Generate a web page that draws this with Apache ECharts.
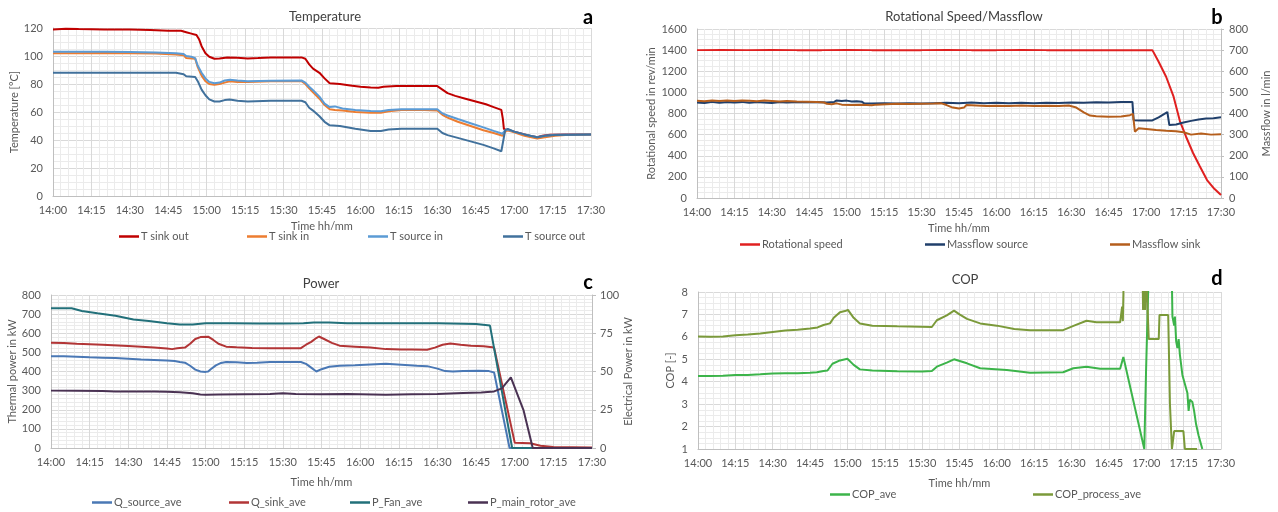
<!DOCTYPE html>
<html><head><meta charset="utf-8">
<script src="https://cdn.jsdelivr.net/npm/echarts@6/dist/echarts.min.js"></script>
<style>html,body{margin:0;padding:0;background:#fff}#c{width:1278px;height:512px}</style>
</head><body><div id="c"></div>
<script>
// ---- tick labels (x axis: minutes after 14:00) ----
const timeLabels = ['14:00','14:15','14:30','14:45','15:00','15:15','15:30','15:45','16:00','16:15','16:30','16:45','17:00','17:15','17:30'];

// ---- panel a: Temperature [°C] ----
const tSinkOut = [[0,119],[5,119.5],[10,119.3],[20,119],[30,119],[38,118.5],[45,118],[50,118],[52,117],[54,116],[56,115],[57,112],[58,107],[59.5,102],[61,99.5],[63,98],[65,98.2],[68,99],[72,98.8],[76,98.3],[80,98.5],[85,99],[90,99],[97,99],[98.5,98],[100,94],[101.5,91],[104,88],[106,84],[108,80.5],[112,80],[116,79],[120,78],[124,77.5],[127,77.4],[129,78],[134,78.5],[140,78.6],[147,78.6],[150,78.5],[152,76],[154,73.5],[157,71.5],[161,69.5],[165,67.5],[169,65.5],[172,63.5],[175,61.5],[175.6,55],[176,48],[177,47],[178,47],[180,46],[183,44.5],[186,43],[189,42],[191,43],[194,43.8],[200,44],[210,44]];
const tSinkIn = [[0,102],[10,102],[20,102.2],[30,102],[40,101.8],[48,101],[51,100.5],[52,98.5],[55.5,98],[56.5,92],[58,86],[59.5,82],[61,80],[63,79.5],[65,80],[67,81],[69,82],[72,81.5],[76,81.5],[85,82],[97,82],[98.5,80],[100,77],[101.5,74],[104,69.5],[106,65],[108,62],[110,61.5],[113,61],[118,60],[124,59.5],[128,59.5],[131,60.5],[136,61.5],[145,61.5],[150,61],[152,58],[154,56],[158,53],[163,50],[168,47],[172,45],[175.5,43],[176.5,46],[177.5,47],[180,45.5],[184,43],[189,41],[192,42],[196,43],[200,43.5],[210,44]];
const tSourceIn = [[0,103],[10,103],[20,103],[30,102.8],[40,102.5],[48,102],[51,101.5],[52,100],[54,99.5],[55.5,98.5],[56.5,93],[58,88],[59.5,84],[61,81.5],[63,80.5],[65,81],[67,82.5],[69,83],[72,82.5],[76,82],[85,82.3],[97,82.5],[98.5,81],[100,78],[101.5,75.5],[104,71],[106,66],[108,63.5],[110,64],[113,62.5],[118,61.5],[124,60.7],[128,60.5],[131,61.5],[136,62],[145,62],[150,62],[152,59],[154,57.5],[158,55],[163,52],[168,49],[172,46.5],[175.5,44.5],[176.5,47],[177.5,47.5],[180,46],[184,44],[189,42],[192,43],[196,43.8],[210,44]];
const tSourceOut = [[0,88],[10,88],[20,88],[30,88],[40,88],[48,88],[51,87],[52,85.5],[55.5,85],[56.5,82],[58,76],[59.5,72],[61,69],[63,67.5],[65,67.5],[67,68.5],[69,69],[72,68],[76,67.5],[85,68],[97,68],[98.5,67],[100,63],[101.5,61],[104,57],[106,53],[108,50.5],[112,50],[118,48],[124,46.5],[128,46.5],[131,47.5],[136,48],[145,48],[150,48],[152,45],[154,43.5],[158,41.5],[163,39],[168,36.5],[172,34],[175,32],[175.8,40],[176.5,47],[177.5,48],[180,46],[184,44],[189,42],[192,43],[196,43.5],[210,44]];

// ---- panel b: rotational speed [rev/min] (left), massflow [l/min] (right) ----
const rotSpeed = [[0,1400],[10,1402],[20,1400],[30,1401],[40,1400],[50,1400],[60,1401],[70,1400],[80,1400],[90,1400],[100,1402],[110,1400],[120,1400],[130,1401],[140,1400],[150,1400],[160,1400],[170,1400],[182.5,1400],[185,1290],[188,1148],[191,959],[193.6,722],[196,580],[198.8,426],[201.5,300],[204.4,170],[207,95],[210,28]];
const mfSource = [[0,452],[3,450],[6,455],[9,451],[12,454],[15,452],[18,455],[21,451],[24,454],[27,452],[30,450],[33,454],[36,452],[40,455],[44,453],[48,455],[52,452],[55,455],[56,462],[58,459],[60,461],[62,457],[64,458],[66,456],[67,448],[70,447],[75,449],[80,447],[85,449],[90,447],[95,449],[100,451],[105,449],[110,452],[115,449],[120,451],[125,448],[130,451],[135,449],[140,451],[145,450],[150,452],[155,451],[160,453],[165,452],[170,454],[174.5,455],[175,368],[178,367],[182.5,367],[185,382],[188.5,407],[189.3,345],[192,348],[195,357],[198,365],[201,372],[204,376],[207,378],[210,382]];
const mfSink = [[0,460],[3,458],[6,462],[9,459],[12,461],[15,459],[18,462],[21,460],[24,458],[27,461],[30,459],[33,457],[36,459],[40,457],[44,456],[48,455],[51,452],[52,446],[54,444],[56,448],[58,442],[62,440],[66,441],[70,439],[72,442],[76,444],[80,446],[85,445],[90,446],[95,447],[98,448],[100,440],[102,430],[105,424],[107,428],[108,440],[112,438],[116,436],[120,437],[125,435],[130,438],[135,436],[140,437],[145,435],[149,438],[152,428],[155,405],[157.5,390],[160,387],[165,385],[170,386],[173.5,392],[174.7,398],[175.5,314],[177,330],[180,327],[184,322],[188,318],[192,316],[195,311],[198,300],[202,305],[206,300],[210,302]];

// ---- panel c: thermal power [kW] (left), electrical power [kW] (right) ----
const qSource = [[0,480],[5,480],[10,477],[15,474],[20,472],[25,470],[30,467],[35,463],[40,460],[45,457],[48,455],[50,450],[52,446],[54,430],[56,410],[58,400],[60,398],[61,400],[62,412],[64,432],[66,445],[68,450],[72,448],[76,444],[80,446],[85,450],[90,450],[97,450],[99,440],[101,420],[103,400],[105,412],[108,425],[112,430],[118,433],[124,437],[130,440],[136,435],[142,430],[146,428],[150,415],[153,402],[156,400],[160,403],[166,404],[170,402],[172,395],[178,0],[210,0]];
const qSink = [[0,550],[5,549],[10,545],[20,540],[30,533],[40,526],[45,520],[47,517],[49,522],[52,525],[54,545],[56,570],[58,580],[61,582],[63,565],[65,545],[68,530],[72,527],[78,523],[85,522],[92,522],[97,522],[99,540],[101,555],[103,575],[104,583],[106,570],[109,550],[112,535],[118,530],[124,525],[130,517],[136,515],[140,515],[146,514],[149,525],[152,540],[155,546],[159,540],[163,535],[168,532],[172,525],[180,28],[186,25],[190,12],[195,5],[210,3]];
const pFan = [[0,91.3],[8,91.3],[12,89.5],[18,88],[25,86.5],[32,84],[38,83],[45,81.5],[50,80.7],[55,80.7],[60,81.5],[70,81.5],[80,81.3],[90,81.3],[98,81.5],[102,82],[108,82],[115,81.5],[130,81.5],[150,81.5],[165,81],[170.4,80],[179,0],[210,0]];
const pRotor = [[0,37.5],[10,37.4],[20,37.3],[25,37],[30,36.9],[35,37],[40,37],[45,36.8],[50,36.5],[55,35.8],[58,35],[60,34.8],[65,35],[75,35.2],[85,35.3],[90,35.8],[95,35.3],[105,35.2],[115,35.3],[125,35],[130,34.8],[140,35.2],[150,35.3],[160,36],[167,36.2],[172,37],[175,39],[178.5,46.2],[183.4,24.8],[187,0],[210,0]];

// ---- panel d: COP [-] ----
const copAve = [[0,4.25],[5,4.25],[10,4.27],[15,4.3],[20,4.3],[25,4.33],[30,4.37],[35,4.38],[40,4.38],[45,4.4],[47.7,4.42],[50.4,4.48],[52,4.5],[54,4.8],[57,4.95],[60,5.02],[62.5,4.75],[65,4.55],[70,4.5],[80,4.47],[90,4.46],[93.9,4.48],[95.9,4.67],[99.9,4.85],[102.8,5.0],[108,4.82],[113.3,4.6],[124,4.52],[133.3,4.4],[146.6,4.42],[150.7,4.6],[156,4.67],[161.5,4.58],[169.5,4.58],[170.8,5.1],[179.2,1.0],[179.9,4.45],[180.8,8.2],[185,9],[190.2,9],[190.5,6.9],[191.2,6.5],[191.5,6.9],[192,5.8],[192.5,5.5],[193,5.9],[193.5,5.2],[194.5,4.3],[195.5,3.9],[196.5,3.5],[197,2.7],[197.5,3.2],[198.5,3.1],[199.2,2.7],[200,2.1],[201,1.6],[202.5,1.0]];
const copProcess = [[0,6.02],[5,6.0],[10,6.02],[15,6.07],[20,6.1],[25,6.15],[30,6.22],[35,6.28],[40,6.32],[45,6.37],[48,6.42],[50.4,6.53],[53,6.6],[54.5,6.85],[57,7.1],[59,7.15],[60.2,7.2],[62.5,6.85],[65,6.6],[70,6.5],[80,6.47],[93.9,6.44],[95.9,6.74],[99.9,6.96],[102.8,7.17],[105,7.0],[108,6.8],[113.3,6.6],[120,6.5],[127,6.35],[133.3,6.3],[146.6,6.3],[151,6.5],[156,6.72],[160,6.65],[169.5,6.65],[170.3,7.35],[170.6,6.7],[171,9],[178.5,9],[178.7,7.2],[179,9],[179.5,7.2],[180,9],[180.5,7.3],[181,5.9],[185,5.9],[185.3,6.97],[188.8,6.97],[189.5,3.0],[190.3,1.0],[191.2,1.8],[194.9,1.8],[195.5,1.0],[200.4,1.0]];

const FONT = 'Lato, "Open Sans", sans-serif';
const TXT = '#595959';
const grids = [
  {left:53, top:28, width:538, height:168},
  {left:697, top:29, width:524, height:169},
  {left:51, top:295, width:541, height:153},
  {left:698, top:292, width:523, height:157}
];
function xAx(i){
  return {type:'value', gridIndex:i, min:0, max:210, interval:15,
    name:'Time hh/mm', nameLocation:'middle', nameGap: i<2?25:29,
    nameTextStyle:{color:TXT,fontSize:11,fontFamily:FONT},
    axisLabel:{color:TXT,fontSize:11,fontFamily:FONT,margin:9,formatter:v=>timeLabels[Math.round(v/15)]},
    axisLine:{show:true,lineStyle:{color:'#bfbfbf'}}, axisTick:{show:false},
    splitLine:{show:true,lineStyle:{color:'#d9d9d9'}},
    minorTick:{show:false,splitNumber:5}, minorSplitLine:{show:true,lineStyle:{color:'#ebebeb'}}};
}
function yAx(i,o){
  return Object.assign({type:'value', gridIndex:i, nameLocation:'middle', nameRotate:90,
    nameTextStyle:{color:TXT,fontSize:11,fontFamily:FONT},
    axisLabel:{color:TXT,fontSize:11,fontFamily:FONT,margin:10,formatter:v=>String(v)},
    axisLine:{show:true,lineStyle:{color:'#bfbfbf'}}, axisTick:{show:false},
    splitLine:{show:true,lineStyle:{color:'#d9d9d9'}},
    minorTick:{show:false,splitNumber:4}, minorSplitLine:{show:true,lineStyle:{color:'#ebebeb'}}}, o);
}
function ln(name,data,color,xi,yi){
  return {type:'line', name, data, xAxisIndex:xi, yAxisIndex:yi, showSymbol:false, symbol:'none',
    lineStyle:{color, width:2}, itemStyle:{color}, animation:false, clip:true};
}
function lg(name,left,top){
  return {data:[name], left, top, icon:'rect', itemWidth:20, itemHeight:2.5, padding:0,
    textStyle:{color:TXT,fontSize:11,fontFamily:FONT,padding:[0,0,0,-3]}, itemGap:2};
}
const option = {
  backgroundColor:'#fff', animation:false,
  title:[
    {text:'Temperature', left:320, top:5, textAlign:'center', textStyle:{fontSize:13,fontWeight:'normal',color:'#404040',fontFamily:FONT}},
    {text:'Rotational Speed/Massflow', left:959, top:5, textAlign:'center', textStyle:{fontSize:13,fontWeight:'normal',color:'#404040',fontFamily:FONT}},
    {text:'Power', left:316, top:272, textAlign:'center', textStyle:{fontSize:13,fontWeight:'normal',color:'#404040',fontFamily:FONT}},
    {text:'COP', left:960, top:268, textAlign:'center', textStyle:{fontSize:13,fontWeight:'normal',color:'#404040',fontFamily:FONT}},
    {text:'a', left:583, top:3, textAlign:'center', textStyle:{fontSize:20,fontWeight:'bold',color:'#000',fontFamily:FONT}},
    {text:'b', left:1212, top:3, textAlign:'center', textStyle:{fontSize:20,fontWeight:'bold',color:'#000',fontFamily:FONT}},
    {text:'c', left:583, top:268, textAlign:'center', textStyle:{fontSize:20,fontWeight:'bold',color:'#000',fontFamily:FONT}},
    {text:'d', left:1212, top:264, textAlign:'center', textStyle:{fontSize:20,fontWeight:'bold',color:'#000',fontFamily:FONT}}
  ],
  grid: grids,
  xAxis:[xAx(0),xAx(1),xAx(2),xAx(3)],
  yAxis:[
    yAx(0,{min:0,max:120,interval:20,name:'Temperature [°C]',nameGap:32}),
    yAx(1,{min:0,max:1600,interval:200,name:'Rotational speed in rev/min',nameGap:40}),
    yAx(1,{min:0,max:800,interval:100,name:'Massflow in l/min',nameGap:40,position:'right',axisLabel:{color:TXT,fontSize:11,fontFamily:FONT,margin:8},splitLine:{show:false},minorSplitLine:{show:false},axisTick:{show:true,length:3,lineStyle:{color:'#bfbfbf'}}}),
    yAx(2,{min:0,max:800,interval:100,name:'Thermal power in kW',nameGap:33,minorTick:{show:false,splitNumber:5}}),
    yAx(2,{min:0,max:100,interval:25,name:'Electrical Power in kW',nameGap:30,position:'right',axisLabel:{color:TXT,fontSize:11,fontFamily:FONT,margin:8},splitLine:{show:false},minorSplitLine:{show:false},axisTick:{show:true,length:4,lineStyle:{color:'#bfbfbf'}}}),
    yAx(3,{min:1,max:8,interval:1,name:'COP [-]',nameGap:22})
  ],
  legend:[
    lg('T sink out',119,231), lg('T sink in',247,231), lg('T source in',368,231), lg('T source out',503,231),
    lg('Rotational speed',740,239), lg('Massflow source',925,239), lg('Massflow sink',1110,239),
    lg('Q_source_ave',92,497), lg('Q_sink_ave',229,497), lg('P_Fan_ave',350,497), lg('P_main_rotor_ave',468,497),
    lg('COP_ave',830,489), lg('COP_process_ave',1033,489)
  ],
  series:[
    ln('T sink out',tSinkOut,'#c00000',0,0),
    ln('T sink in',tSinkIn,'#ed7d31',0,0),
    ln('T source in',tSourceIn,'#5b9bd5',0,0),
    ln('T source out',tSourceOut,'#41719c',0,0),
    ln('Rotational speed',rotSpeed,'#e02020',1,1),
    ln('Massflow source',mfSource,'#203f6b',1,2),
    ln('Massflow sink',mfSink,'#b55e1c',1,2),
    ln('Q_source_ave',qSource,'#4a78b5',2,3),
    ln('Q_sink_ave',qSink,'#b23536',2,3),
    ln('P_Fan_ave',pFan,'#22707a',2,4),
    ln('P_main_rotor_ave',pRotor,'#4a3253',2,4),
    ln('COP_ave',copAve,'#3cb44a',3,5),
    ln('COP_process_ave',copProcess,'#7b9a3a',3,5)
  ]
};
const chart = echarts.init(document.getElementById('c'), null, {renderer:'canvas'});
chart.setOption(option);
</script></body></html>
